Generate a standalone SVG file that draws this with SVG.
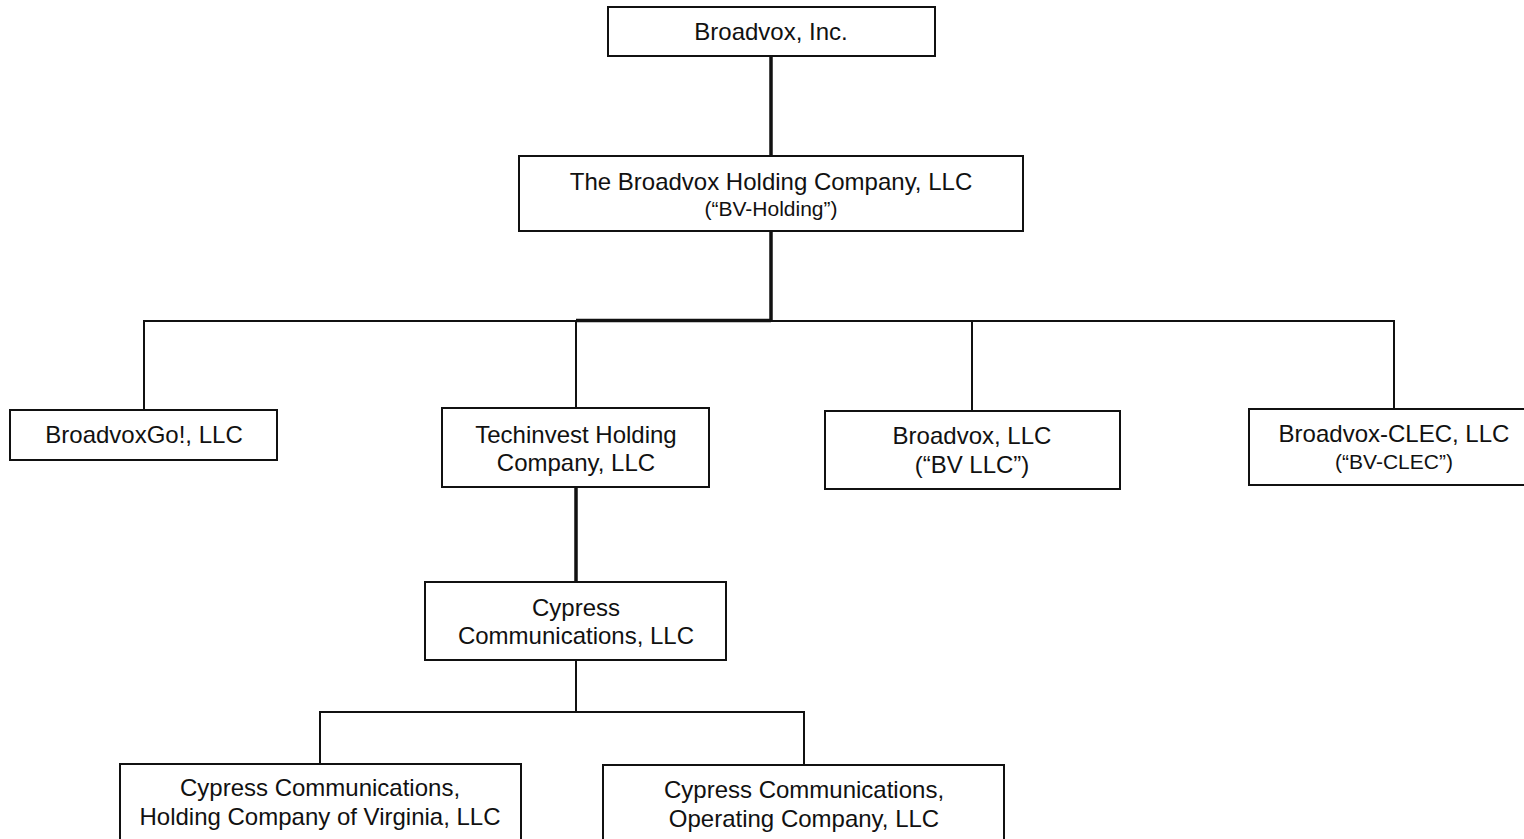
<svg xmlns="http://www.w3.org/2000/svg" width="1524" height="839" viewBox="0 0 1524 839">
<style>
.box{fill:#fff;stroke:#111;stroke-width:2}
text{font-family:"Liberation Sans",Arial,sans-serif;font-size:24px;fill:#111;text-anchor:middle}
.sm{font-size:21px}
.thin{stroke:#111;stroke-width:2;fill:none}
.thick{stroke:#111;stroke-width:3.5;fill:none}
</style>
<rect width="1524" height="839" fill="#fff"/>
<g id="connectors">
<line class="thick" x1="771" y1="56" x2="771" y2="156"/>
<line class="thick" x1="771" y1="231" x2="771" y2="321"/>
<line class="thin" x1="144" y1="321" x2="1394" y2="321"/>
<line class="thick" x1="576" y1="320.5" x2="771" y2="320.5"/>
<line class="thin" x1="144" y1="320" x2="144" y2="410"/>
<line class="thin" x1="576" y1="320" x2="576" y2="408"/>
<line class="thin" x1="972" y1="320" x2="972" y2="411"/>
<line class="thin" x1="1394" y1="320" x2="1394" y2="409"/>
<line class="thick" x1="576" y1="487" x2="576" y2="582"/>
<line class="thin" x1="576" y1="660" x2="576" y2="712"/>
<polyline class="thin" points="320,764 320,712 804,712 804,765"/>
</g>
<g id="broadvox-inc">
<rect class="box" x="608" y="7" width="327" height="49"/>
<text x="771" y="40">Broadvox, Inc.</text>
</g>
<g id="bv-holding">
<rect class="box" x="519" y="156" width="504" height="75"/>
<text x="771" y="190">The Broadvox Holding Company, LLC</text>
<text class="sm" x="771" y="216">(“BV-Holding”)</text>
</g>
<g id="broadvoxgo">
<rect class="box" x="10" y="410" width="267" height="50"/>
<text x="144" y="443">BroadvoxGo!, LLC</text>
</g>
<g id="techinvest">
<rect class="box" x="442" y="408" width="267" height="79"/>
<text x="576" y="443">Techinvest Holding</text>
<text x="576" y="471">Company, LLC</text>
</g>
<g id="broadvox-llc">
<rect class="box" x="825" y="411" width="295" height="78"/>
<text x="972" y="444">Broadvox, LLC</text>
<text x="972" y="473">(“BV LLC”)</text>
</g>
<g id="broadvox-clec">
<rect class="box" x="1249" y="409" width="285" height="76"/>
<text x="1394" y="442">Broadvox-CLEC, LLC</text>
<text class="sm" x="1394" y="469">(“BV-CLEC”)</text>
</g>
<g id="cypress">
<rect class="box" x="425" y="582" width="301" height="78"/>
<text x="576" y="616">Cypress</text>
<text x="576" y="644">Communications, LLC</text>
</g>
<g id="cypress-virginia">
<rect class="box" x="120" y="764" width="401" height="85"/>
<text x="320" y="796">Cypress Communications,</text>
<text x="320" y="825">Holding Company of Virginia, LLC</text>
</g>
<g id="cypress-operating">
<rect class="box" x="603" y="765" width="401" height="85"/>
<text x="804" y="798">Cypress Communications,</text>
<text x="804" y="827">Operating Company, LLC</text>
</g>
</svg>
